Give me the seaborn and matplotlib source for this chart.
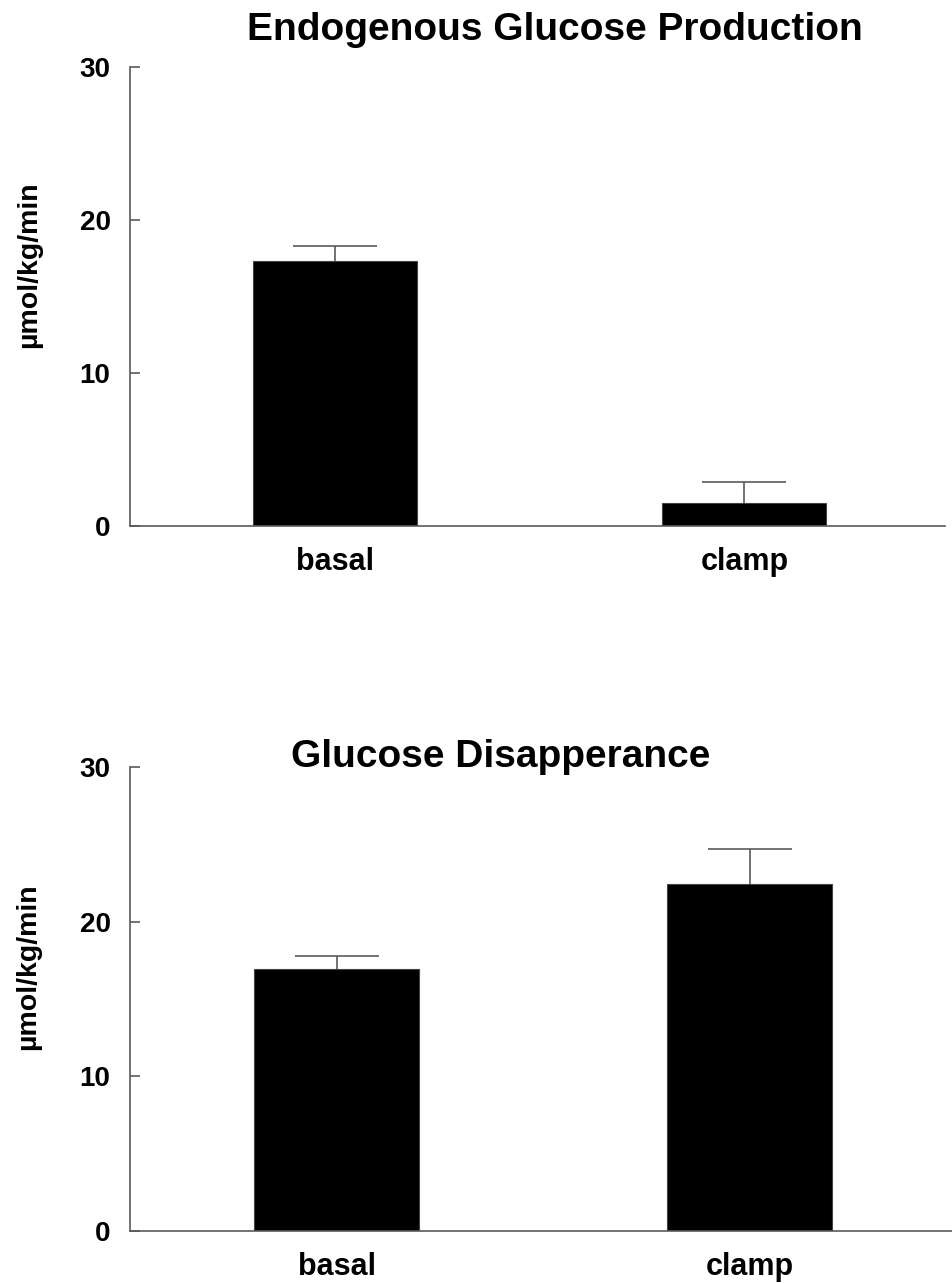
import pandas as pd
import seaborn as sns
import matplotlib.pyplot as plt

# -----------------------------
# Data
# -----------------------------
conditions = ["basal", "clamp"]
egp_mean = [17.3, 1.5]
egp_sem = [1.0, 1.35]
rd_mean = [16.95, 22.45]
rd_sem = [0.8, 2.25]
y_ticks = [0, 10, 20, 30]
y_label = "\u00b5mol/kg/min"

# -----------------------------
# Style
# -----------------------------
sns.set_style("white")
plt.rcParams["font.family"] = ["Liberation Sans", "DejaVu Sans"]
plt.rcParams["font.weight"] = "bold"
plt.rcParams["text.color"] = "black"
plt.rcParams["axes.labelcolor"] = "black"
plt.rcParams["xtick.color"] = "black"
plt.rcParams["ytick.color"] = "black"
AX_COLOR = "#5a5a5a"

fig = plt.figure(figsize=(9.52, 12.83), dpi=100)
ax_top = fig.add_axes([130 / 952, 1 - 526 / 1283, 815 / 952, 459 / 1283])
ax_bot = fig.add_axes([130 / 952, 1 - 1231 / 1283, 822 / 952, 464 / 1283])


def draw_panel(ax, means, sems):
    df = pd.DataFrame({"condition": conditions, "value": means})
    sns.barplot(data=df, x="condition", y="value", color="black",
                width=0.40, edgecolor="#444444", linewidth=0.8,
                saturation=1, errorbar=None, ax=ax)
    # one-sided (upper) error bars
    eb = ax.errorbar(range(len(means)), means,
                     yerr=[[0] * len(sems), sems],
                     fmt="none", ecolor=AX_COLOR, elinewidth=1.2,
                     capsize=30, capthick=1.2)
    eb[1][0].set_visible(False)
    ax.set_xlim(-0.5, 1.49)
    ax.set_ylim(0, 30)
    ax.set_yticks(y_ticks)
    ax.set_yticklabels([str(t) for t in y_ticks], fontsize=20, fontweight="bold")
    ax.tick_params(axis="y", direction="in", length=7, width=1.2,
                   color=AX_COLOR, pad=14, left=True)
    ax.tick_params(axis="x", length=0, pad=15, labelsize=22)
    for lbl in ax.get_xticklabels():
        lbl.set_fontweight("bold")
    ax.set_xlabel("")
    ax.set_ylabel(y_label, fontsize=20.5, fontweight="bold")
    ax.yaxis.set_label_coords(-0.108, 0.57)
    sns.despine(ax=ax)
    for side in ["left", "bottom"]:
        ax.spines[side].set_color(AX_COLOR)
        ax.spines[side].set_linewidth(1.2)


draw_panel(ax_top, egp_mean, egp_sem)
draw_panel(ax_bot, rd_mean, rd_sem)

fig.text(555 / 952, 1 - 30 / 1283, "Endogenous Glucose Production",
         ha="center", va="center", fontsize=28, fontweight="bold")
fig.text(501 / 952, 1 - 757 / 1283, "Glucose Disapperance",
         ha="center", va="center", fontsize=28, fontweight="bold")

plt.savefig("out.png", dpi=100)
plt.close()
